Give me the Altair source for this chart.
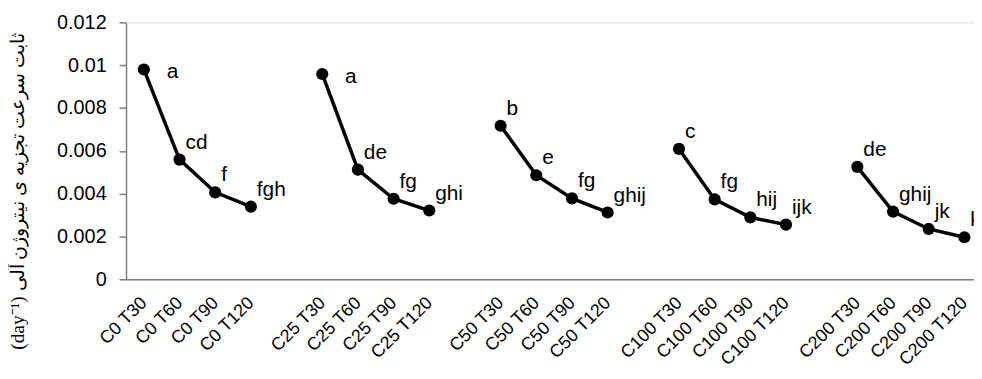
import altair as alt
import pandas as pd

groups = ["C0", "C25", "C50", "C100", "C200"]
times = ["T30", "T60", "T90", "T120"]
values = [
    [0.00980, 0.00559, 0.00406, 0.00339],
    [0.00959, 0.00512, 0.00376, 0.00321],
    [0.00717, 0.00486, 0.00378, 0.00312],
    [0.00609, 0.00373, 0.00289, 0.00255],
    [0.00525, 0.00316, 0.00235, 0.00196],
]
letters = [
    ["a", "cd", "f", "fgh"],
    ["a", "de", "fg", "ghi"],
    ["b", "e", "fg", "ghij"],
    ["c", "fg", "hij", "ijk"],
    ["de", "ghij", "jk", "k"],
]
y_ticks = [0, 0.002, 0.004, 0.006, 0.008, 0.01, 0.012]

rows = []
domain = []
for gi, g in enumerate(groups):
    for ti, t in enumerate(times):
        cat = f"{g} {t}"
        domain.append(cat)
        rows.append({"cat": cat, "group": g, "k": values[gi][ti], "lab": letters[gi][ti]})
    if gi < len(groups) - 1:
        domain.append(" " * (gi + 1))
df = pd.DataFrame(rows)

FONT = "Liberation Sans"
step = 35.97
xscale = alt.Scale(domain=domain, type="point", padding=0.5, range=[0, step * len(domain)])
yscale = alt.Scale(domain=[0, 0.012])

x = alt.X("cat:N", scale=xscale, sort=domain, title=None,
          axis=alt.Axis(labelAngle=-45, labelAlign="right", labelBaseline="middle",
                        ticks=False, labelPadding=21, labelFontSize=18, labelFont=FONT,
                        labelColor="black", domainColor="#7f7f7f", domainWidth=1.5,
                        grid=False, labelOverlap=False))
y = alt.Y("k:Q", scale=yscale,
          axis=alt.Axis(values=y_ticks, format="~g", grid=False, tickSize=7,
                        tickColor="#7f7f7f", domainColor="#7f7f7f", domainWidth=1.5,
                        tickWidth=1.5, labelFontSize=20, labelFont=FONT, labelColor="black",
                        labelPadding=13,
                        title="(day⁻¹) ثابت سرعت تجزیه ی نیتروژن آلی",
                        titleFont="Liberation Serif", titleFontSize=19.5, titleFontWeight="normal",
                        titleColor="black", titleAngle=270, titleAlign="center",
                        titleBaseline="middle", titleX=-109, titleY=170))

base = alt.Chart(df)
line = base.mark_line(color="black", strokeWidth=3.5).encode(x=x, y=y, detail="group:N")
pts = base.mark_point(filled=True, color="black", size=150, opacity=1).encode(x=x, y=y)
txt = base.transform_filter("datum.lab != 'a'").mark_text(
    align="left", baseline="middle", dx=6, dy=-17, fontSize=21, font=FONT, color="black"
).encode(x=x, y=y, text="lab:N")
txt_a = base.transform_filter("datum.lab == 'a'").mark_text(
    align="left", baseline="middle", dx=23, dy=3, fontSize=21, font=FONT, color="black"
).encode(x=x, y=y, text="lab:N")

chart = alt.layer(line, pts, txt, txt_a).properties(
    width=855, height=259,
    autosize=alt.AutoSizeParams(type="none"),
    padding={"left": 119, "top": 13, "right": 0, "bottom": 90},
).configure_view(stroke=None).configure(background="white")

chart.save("out.html", embed_options={"renderer": "svg", "actions": False})
